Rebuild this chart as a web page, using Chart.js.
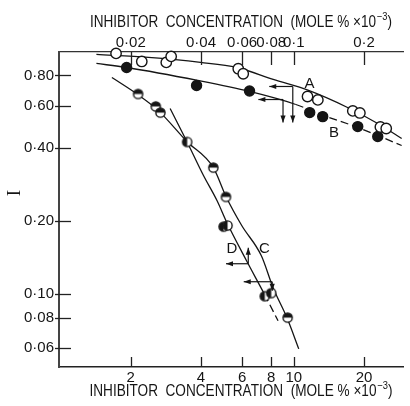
<!DOCTYPE html>
<html><head><meta charset="utf-8">
<script src="https://cdn.jsdelivr.net/npm/chart.js@4/dist/chart.umd.min.js"></script>
<style>html,body{margin:0;padding:0;background:#fff;}canvas{display:block;}</style>
</head><body>
<canvas id="c" width="410" height="406"></canvas>
<script>
// ---- tick definitions ----
const xTicksBottom = [2, 4, 6, 8, 10, 20];
const xTickLabelsBottom = ['2', '4', '6', '8', '10', '20'];
const xTicksTop = [0.02, 0.04, 0.06, 0.08, 0.1, 0.2];
const xTickLabelsTop = ['0·02', '0·04', '0·06', '0·08', '0·1', '0·2'];
const yTicks = [0.06, 0.08, 0.1, 0.2, 0.4, 0.6, 0.8];
const yTickLabels = ['0·06', '0·08', '0·10', '0·20', '0·40', '0·60', '0·80'];

// ---- measured points ----
const A_x = [1.73, 2.23, 2.84, 2.98, 5.78, 6.07, 11.45, 12.68, 17.9, 19.2, 23.5, 24.9];
const A_y = [0.987, 0.914, 0.906, 0.959, 0.853, 0.813, 0.655, 0.634, 0.571, 0.560, 0.490, 0.483];
const B_x = [1.92, 3.83, 6.46, 11.7, 13.3, 18.8, 22.9];
const B_y = [0.863, 0.727, 0.690, 0.562, 0.541, 0.492, 0.448];
const C_x = [2.15, 2.56, 2.68, 4.52, 5.12, 9.41];
const C_y = [0.671, 0.596, 0.562, 0.333, 0.252, 0.080];
const D_x = [3.49, 5.00, 5.20, 7.51, 8.00];
const D_y = [0.425, 0.190, 0.192, 0.098, 0.101];

// ---- fitted curves ----
const curveA_x = [1.425, 2.38, 3.98, 5.70, 8.16, 11.57, 17.0, 23.3, 29.0];
const curveA_y = [0.977, 0.950, 0.906, 0.863, 0.770, 0.694, 0.590, 0.502, 0.439];
const curveB_x = [1.425, 1.92, 3.87, 6.46, 10.2, 13.4, 18.8, 29.0];
const curveB_y = [0.897, 0.863, 0.763, 0.687, 0.607, 0.547, 0.488, 0.411];
const curveC_x = [1.66, 2.14, 2.62, 3.48, 4.52, 5.12, 5.98, 7.26, 8.16, 9.34, 10.5];
const curveC_y = [0.785, 0.668, 0.574, 0.427, 0.333, 0.253, 0.192, 0.144, 0.106, 0.080, 0.0594];
const curveD_x = [2.95, 3.48, 4.10, 4.69, 5.17, 6.28, 7.48, 8.56];
const curveD_y = [0.584, 0.427, 0.309, 0.243, 0.197, 0.137, 0.100, 0.0776];

// ---- annotations (data coordinates) ----
const arrowSegs = [
  [9.90, 0.7204, 7.85, 0.7204], [9.90, 0.7204, 9.90, 0.5114],
  [8.99, 0.6364, 7.05, 0.6364], [8.99, 0.6364, 8.99, 0.5114],
  [6.38, 0.1335, 6.38, 0.1555], [6.38, 0.1335, 5.12, 0.1335],
  [8.08, 0.1125, 6.10, 0.1125], [8.08, 0.1125, 8.08, 0.1032]
];
const curveLetters = [['A', 11.68, 0.741], ['B', 14.88, 0.465], ['C', 7.48, 0.154], ['D', 5.43, 0.154]];

const FONT = "'Liberation Sans', Arial, sans-serif";
const INK = '#151515';

function pts(xs, ys) { return xs.map((x, i) => ({x: x, y: ys[i]})); }

function halfCircle(side) {
  const r = 4.6, s = 13;
  const c = document.createElement('canvas'); c.width = s; c.height = s;
  const g = c.getContext('2d'); const cx = s / 2, cy = s / 2;
  g.fillStyle = '#fff'; g.beginPath(); g.arc(cx, cy, r, 0, 2 * Math.PI); g.fill();
  g.fillStyle = INK; g.beginPath();
  if (side === 'top') g.arc(cx, cy, r, Math.PI, 2 * Math.PI);
  else g.arc(cx, cy, r, Math.PI / 2, 3 * Math.PI / 2);
  g.closePath(); g.fill();
  g.strokeStyle = INK; g.lineWidth = 1.4; g.beginPath(); g.arc(cx, cy, r, 0, 2 * Math.PI); g.stroke();
  return c;
}

function drawAxisTitle(ctx, cx, cy, targetW) {
  const main = 'INHIBITOR  CONCENTRATION  (MOLE % ×10', sup = '−3', end = ')';
  ctx.font = '16px ' + FONT; const w1 = ctx.measureText(main).width; const w3 = ctx.measureText(end).width;
  ctx.font = '11px ' + FONT; const w2 = ctx.measureText(sup).width + 1;
  const s = targetW / (w1 + w2 + w3);
  ctx.save(); ctx.translate(cx - targetW / 2, cy); ctx.scale(s, 1);
  ctx.textBaseline = 'middle'; ctx.textAlign = 'left'; ctx.fillStyle = INK;
  ctx.font = '16px ' + FONT; ctx.fillText(main, 0, 0);
  ctx.font = '11px ' + FONT; ctx.fillText(sup, w1 + 1, -6);
  ctx.font = '16px ' + FONT; ctx.fillText(end, w1 + w2, 0);
  ctx.restore();
}

function arrow(ctx, x0, y0, x1, y1) {
  ctx.beginPath(); ctx.moveTo(x0, y0); ctx.lineTo(x1, y1); ctx.stroke();
  const ang = Math.atan2(y1 - y0, x1 - x0), L = 7, W = 2.6;
  ctx.beginPath();
  ctx.moveTo(x1, y1);
  ctx.lineTo(x1 - L * Math.cos(ang) + W * Math.sin(ang), y1 - L * Math.sin(ang) - W * Math.cos(ang));
  ctx.lineTo(x1 - L * Math.cos(ang) - W * Math.sin(ang), y1 - L * Math.sin(ang) + W * Math.cos(ang));
  ctx.closePath(); ctx.fill();
}

const decor = {
  id: 'decor',
  afterDraw(chart) {
    const ctx = chart.ctx, a = chart.chartArea;
    const sx = chart.scales.x, sx2 = chart.scales.x2, sy = chart.scales.y;
    ctx.save();
    ctx.strokeStyle = '#222'; ctx.lineWidth = 1.3;
    const seg = (x0, y0, x1, y1) => { ctx.beginPath(); ctx.moveTo(x0, y0); ctx.lineTo(x1, y1); ctx.stroke(); };
    xTicksBottom.forEach(v => { const p = Math.round(sx.getPixelForValue(v)) + 0.5; seg(p, a.bottom, p, a.bottom - 10); });
    xTicksTop.forEach(v => { const p = Math.round(sx2.getPixelForValue(v)) + 0.5; seg(p, a.top, p, a.top + 13); });
    yTicks.forEach(v => { const p = Math.round(sy.getPixelForValue(v)) + 0.5; seg(a.left - 4, p, a.left + 12, p); });
    // arrows
    ctx.strokeStyle = INK; ctx.fillStyle = INK; ctx.lineWidth = 1.2;
    arrowSegs.forEach(s => arrow(ctx, sx.getPixelForValue(s[0]), sy.getPixelForValue(s[1]), sx.getPixelForValue(s[2]), sy.getPixelForValue(s[3])));
    // curve letters
    ctx.font = '15px ' + FONT; ctx.textAlign = 'center'; ctx.textBaseline = 'middle';
    curveLetters.forEach(l => ctx.fillText(l[0], sx.getPixelForValue(l[1]), sy.getPixelForValue(l[2])));
    // titles
    drawAxisTitle(ctx, 241, 23, 302);
    drawAxisTitle(ctx, 241, 392, 303);
    // y title
    ctx.save(); ctx.translate(15, 193); ctx.rotate(-Math.PI / 2);
    ctx.font = "19px 'Liberation Serif', serif"; ctx.textAlign = 'center'; ctx.textBaseline = 'middle';
    ctx.fillText('I', 0, 0); ctx.restore();
    ctx.restore();
  }
};

const topStyle = halfCircle('top');
const sideStyle = halfCircle('left');

const pointDs = (label, data, style, bg, r) => ({
  type: 'scatter', label, data, order: 0, clip: false,
  pointStyle: style, pointRadius: r, pointHoverRadius: r,
  backgroundColor: bg, borderColor: INK, pointBorderWidth: 1.4, showLine: false
});
const curveDs = (label, data, dashFrom) => ({
  type: 'scatter', label, data, order: 1, showLine: true, pointRadius: 0,
  borderColor: INK, borderWidth: 1.3, cubicInterpolationMode: 'monotone', fill: false,
  segment: { borderDash: ctx => (dashFrom != null && ctx.p0DataIndex >= dashFrom) ? [8, 4] : undefined }
});

const tickFont = { family: FONT, size: 15 };

new Chart(document.getElementById('c'), {
  type: 'scatter',
  data: {
    datasets: [
      pointDs('A', pts(A_x, A_y), 'circle', '#fff', 5.2),
      pointDs('B', pts(B_x, B_y), 'circle', INK, 5),
      pointDs('C', pts(C_x, C_y), topStyle, '#fff', 5),
      pointDs('D', pts(D_x, D_y), sideStyle, '#fff', 5),
      curveDs('curve A', pts(curveA_x, curveA_y), null),
      curveDs('curve B', pts(curveB_x, curveB_y), 4),
      curveDs('curve C', pts(curveC_x, curveC_y), null),
      curveDs('curve D', pts(curveD_x, curveD_y), 6)
    ]
  },
  options: {
    responsive: false, animation: false, devicePixelRatio: 1,
    layout: { padding: 0 },
    plugins: { legend: { display: false }, tooltip: { enabled: false } },
    scales: {
      x: {
        type: 'logarithmic', position: 'bottom', min: 0.985, max: 29.5,
        afterBuildTicks: s => { s.ticks = xTicksBottom.map(v => ({ value: v })); },
        afterFit: s => { s.height = 39; },
        ticks: { autoSkip: false, maxRotation: 0, minRotation: 0, padding: 2, color: INK, font: tickFont,
                 callback: (v, i) => xTickLabelsBottom[i] },
        grid: { display: false, drawTicks: false },
        border: { display: true, color: '#222', width: 1.5 }
      },
      x2: {
        type: 'logarithmic', position: 'top', min: 0.00985, max: 0.295,
        afterBuildTicks: s => { s.ticks = xTicksTop.map(v => ({ value: v })); },
        afterFit: s => { s.height = 52; },
        ticks: { autoSkip: false, maxRotation: 0, minRotation: 0, padding: 0, color: INK, font: tickFont,
                 callback: (v, i) => xTickLabelsTop[i] },
        grid: { display: false, drawTicks: false },
        border: { display: true, color: '#333', width: 1.3 }
      },
      y: {
        type: 'logarithmic', position: 'left', min: 0.05, max: 1.0,
        afterBuildTicks: s => { s.ticks = yTicks.map(v => ({ value: v })); },
        afterFit: s => { s.width = 59; },
        ticks: { autoSkip: false, padding: 5, color: INK, font: tickFont,
                 callback: (v, i) => yTickLabels[i] },
        grid: { display: false, drawTicks: false },
        border: { display: true, color: '#444', width: 2 }
      }
    }
  },
  plugins: [decor]
});
</script>
</body></html>
